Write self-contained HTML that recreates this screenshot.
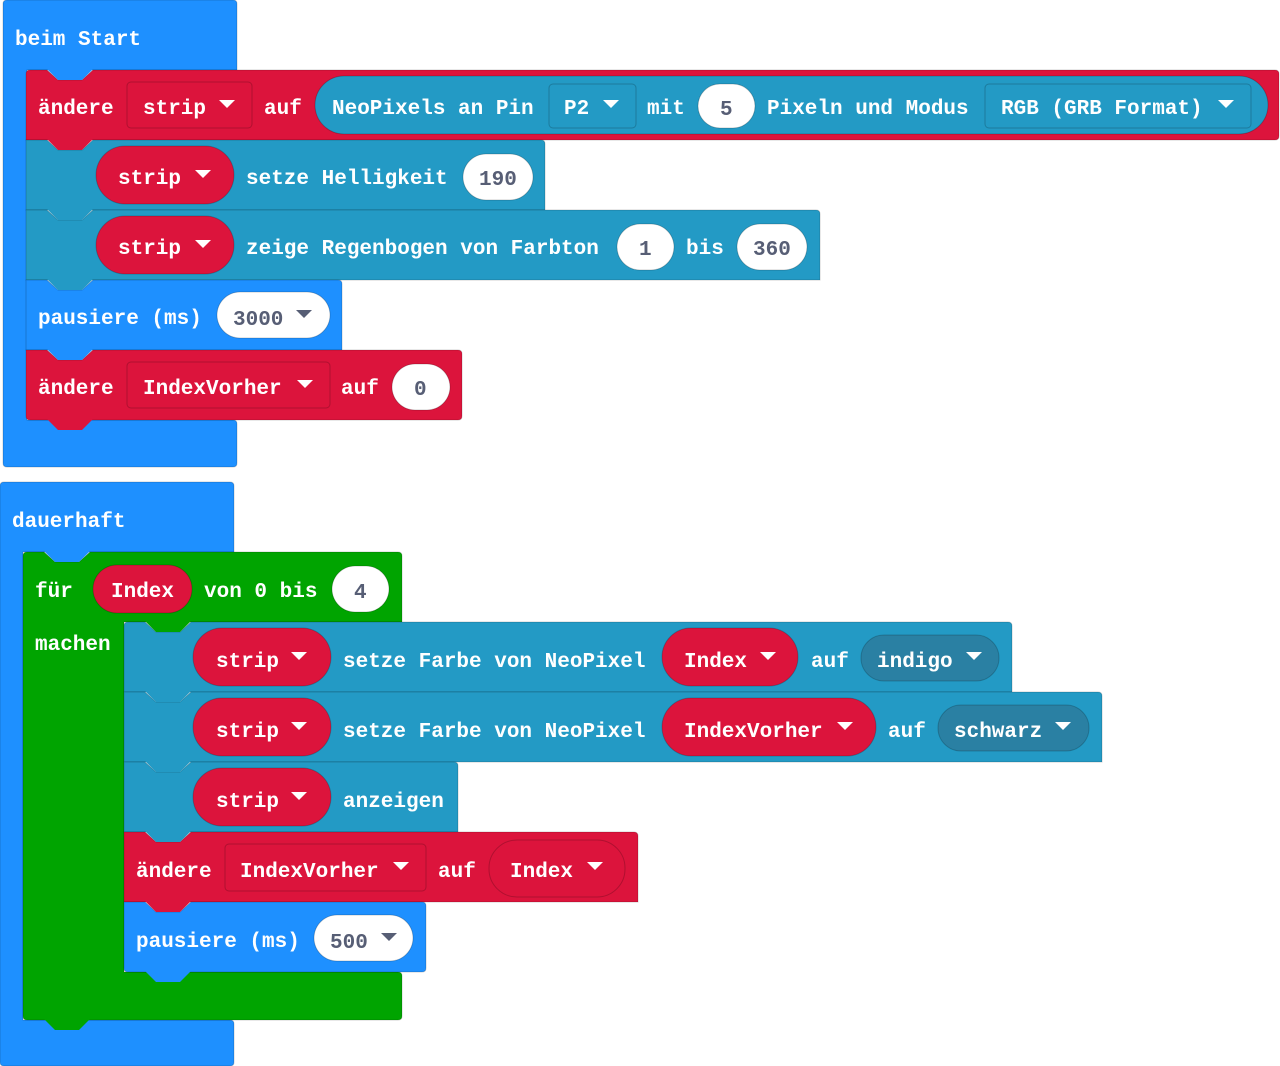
<!DOCTYPE html>
<html><head><meta charset="utf-8"><style>
html,body{margin:0;padding:0;background:#fff;width:1280px;height:1066px;overflow:hidden}
svg text{font-family:"Liberation Mono",monospace;font-weight:bold;font-size:21px;fill:#fff}
svg text.g{fill:#575E75}
</style></head><body>
<svg width="1280" height="1066" viewBox="0 0 1280 1066" xmlns="http://www.w3.org/2000/svg">
<defs></defs>
<g stroke="rgba(0,0,0,0.18)" stroke-width="1">
<!-- beim Start hat -->
<path d="M3,4 Q3,0 7,0 H233 Q237,0 237,4 V70 H27 V420 H233 Q237,420 237,424 V463 Q237,467 233,467 H7 Q3,467 3,463 Z" fill="#1E90FF"/>
<!-- block1 red -->
<path d="M26,74 Q26,70 30,70 H47 L58,80 H82 L93,70 H1275 Q1279,70 1279,74 V136 Q1279,140 1275,140 H26 Z" fill="#DC143C"/>
<!-- block2 teal -->
<path d="M26,140 H47 L58,150 H82 L93,140 H541 Q545,140 545,144 V210 H26 Z" fill="#239AC5"/>
<!-- block3 teal -->
<path d="M26,210 H47 L58,220 H82 L93,210 H816 Q820,210 820,214 V280 H26 Z" fill="#239AC5"/>
<!-- block4 blue -->
<path d="M26,280 H47 L58,290 H82 L93,280 H338 Q342,280 342,284 V350 H26 Z" fill="#1E90FF"/>
<!-- block5 red -->
<path d="M26,350 H47 L58,360 H82 L93,350 H458 Q462,350 462,354 V416 Q462,420 458,420 H30 Q26,420 26,416 Z" fill="#DC143C"/>

<!-- dauerhaft -->
<path d="M0,486 Q0,482 4,482 H230 Q234,482 234,486 V552 H23 V1020 H230 Q234,1020 234,1024 V1062 Q234,1066 230,1066 H4 Q0,1066 0,1062 Z" fill="#1E90FF"/>
<!-- for loop green -->
<path d="M23,556 Q23,552 27,552 H44 L55,562 H79 L90,552 H398 Q402,552 402,556 V622 H124 V972 H398 Q402,972 402,976 V1016 Q402,1020 398,1020 H27 Q23,1020 23,1016 Z" fill="#00A400"/>
<!-- inner blocks -->
<path d="M124,626 Q124,622 128,622 H145 L156,632 H180 L191,622 H1008 Q1012,622 1012,626 V692 H124 Z" fill="#239AC5"/>
<path d="M124,692 H145 L156,702 H180 L191,692 H1098 Q1102,692 1102,696 V762 H124 Z" fill="#239AC5"/>
<path d="M124,762 H145 L156,772 H180 L191,762 H454 Q458,762 458,766 V832 H124 Z" fill="#239AC5"/>
<path d="M124,832 H145 L156,842 H180 L191,832 H634 Q638,832 638,836 V902 H124 Z" fill="#DC143C"/>
<path d="M124,902 H145 L156,912 H180 L191,902 H422 Q426,902 426,906 V968 Q426,972 422,972 H128 Q124,972 124,968 Z" fill="#1E90FF"/>
</g>
<!-- tabs -->
<g>
<polygon points="47,69 58,80 82,80 93,69" fill="#1E90FF"/>
<polygon points="47,139 58,150 82,150 93,139" fill="#DC143C"/>
<polygon points="47,209 58,220 82,220 93,209" fill="#239AC5"/>
<polygon points="47,279 58,290 82,290 93,279" fill="#239AC5"/>
<polygon points="47,349 58,360 82,360 93,349" fill="#1E90FF"/>
<polygon points="47,419 58,430 82,430 93,419" fill="#DC143C"/>
<polygon points="44,551 55,562 79,562 90,551" fill="#1E90FF"/>
<polygon points="145,621 156,632 180,632 191,621" fill="#00A400"/>
<polygon points="145,691 156,702 180,702 191,691" fill="#239AC5"/>
<polygon points="145,761 156,772 180,772 191,761" fill="#239AC5"/>
<polygon points="145,831 156,842 180,842 191,831" fill="#239AC5"/>
<polygon points="145,901 156,912 180,912 191,901" fill="#DC143C"/>
<polygon points="145,971 156,982 180,982 191,971" fill="#1E90FF"/>
<polygon points="44,1019 55,1030 79,1030 90,1019" fill="#00A400"/>
</g>

<!-- inputs -->
<g stroke="rgba(0,0,0,0.2)" stroke-width="1">
<rect x="127" y="82" width="125" height="46" rx="4" fill="#DC143C"/>
<rect x="315" y="76" width="953" height="58" rx="29" fill="#239AC5"/>
<rect x="549" y="84" width="87" height="44" rx="4" fill="#239AC5"/>
<rect x="698" y="84" width="57" height="44" rx="22" fill="#fff"/>
<rect x="985" y="84" width="266" height="44" rx="4" fill="#239AC5"/>

<rect x="96" y="146" width="138" height="58" rx="29" fill="#DC143C"/>
<rect x="463" y="154" width="70" height="46" rx="23" fill="#fff"/>
<rect x="96" y="216" width="138" height="58" rx="29" fill="#DC143C"/>
<rect x="617" y="224" width="57" height="46" rx="23" fill="#fff"/>
<rect x="737" y="224" width="70" height="46" rx="23" fill="#fff"/>
<rect x="217" y="292" width="113" height="46" rx="23" fill="#fff"/>
<rect x="127" y="362" width="203" height="46" rx="4" fill="#DC143C"/>
<rect x="392" y="364" width="58" height="46" rx="23" fill="#fff"/>

<rect x="93" y="565" width="99" height="48" rx="24" fill="#DC143C"/>
<rect x="332" y="566" width="57" height="46" rx="23" fill="#fff"/>
<rect x="193" y="628" width="138" height="58" rx="29" fill="#DC143C"/>
<rect x="662" y="628" width="136" height="58" rx="29" fill="#DC143C"/>
<rect x="861" y="635" width="138" height="46" rx="23" fill="#2A80A3"/>
<rect x="193" y="698" width="138" height="58" rx="29" fill="#DC143C"/>
<rect x="662" y="698" width="214" height="58" rx="29" fill="#DC143C"/>
<rect x="938" y="705" width="151" height="46" rx="23" fill="#2A80A3"/>
<rect x="193" y="768" width="138" height="58" rx="29" fill="#DC143C"/>
<rect x="225" y="844" width="201" height="47" rx="4" fill="#DC143C"/>
<rect x="489" y="840" width="136" height="57" rx="28" fill="#DC143C"/>
<rect x="314" y="915" width="99" height="46" rx="23" fill="#fff"/>
</g>

<!-- arrows -->
<g fill="#fff">
<polygon points="219,100 235,100 227,108"/>
<polygon points="603,100 619,100 611,108"/>
<polygon points="1218,100 1234,100 1226,108"/>
<polygon points="195,170 211,170 203,178"/>
<polygon points="195,240 211,240 203,248"/>
<polygon points="297,380 313,380 305,388"/>
<polygon points="291,652 307,652 299,660"/>
<polygon points="760,652 776,652 768,660"/>
<polygon points="966,652 982,652 974,660"/>
<polygon points="291,722 307,722 299,730"/>
<polygon points="837,722 853,722 845,730"/>
<polygon points="1055,722 1071,722 1063,730"/>
<polygon points="291,792 307,792 299,800"/>
<polygon points="393,862 409,862 401,870"/>
<polygon points="587,862 603,862 595,870"/>
</g>
<g fill="#575E75">
<polygon points="296,310 312,310 304,318"/>
<polygon points="381,933 397,933 389,941"/>
</g>

<!-- text -->
<text x="15" y="45">beim Start</text>
<text x="38" y="114">ändere</text>
<text x="143" y="114">strip</text>
<text x="264" y="114">auf</text>
<text x="332" y="114">NeoPixels an Pin</text>
<text x="564" y="114">P2</text>
<text x="647" y="114">mit</text>
<text class="g" x="720" y="115">5</text>
<text x="767" y="114">Pixeln und Modus</text>
<text x="1001" y="114">RGB (GRB Format)</text>

<text x="118" y="184">strip</text>
<text x="246" y="184">setze Helligkeit</text>
<text class="g" x="479" y="185">190</text>
<text x="118" y="254">strip</text>
<text x="246" y="254">zeige Regenbogen von Farbton</text>
<text class="g" x="639" y="255">1</text>
<text x="686" y="254">bis</text>
<text class="g" x="753" y="255">360</text>
<text x="38" y="324">pausiere (ms)</text>
<text class="g" x="233" y="325">3000</text>
<text x="38" y="394">ändere</text>
<text x="143" y="394">IndexVorher</text>
<text x="341" y="394">auf</text>
<text class="g" x="414" y="395">0</text>

<text x="12" y="527">dauerhaft</text>
<text x="35" y="597">für</text>
<text x="111" y="597">Index</text>
<text x="204" y="597">von 0 bis</text>
<text class="g" x="354" y="598">4</text>
<text x="35" y="650">machen</text>

<text x="216" y="667">strip</text>
<text x="343" y="667">setze Farbe von NeoPixel</text>
<text x="684" y="667">Index</text>
<text x="811" y="667">auf</text>
<text x="877" y="667">indigo</text>
<text x="216" y="737">strip</text>
<text x="343" y="737">setze Farbe von NeoPixel</text>
<text x="684" y="737">IndexVorher</text>
<text x="888" y="737">auf</text>
<text x="954" y="737">schwarz</text>
<text x="216" y="807">strip</text>
<text x="343" y="807">anzeigen</text>
<text x="136" y="877">ändere</text>
<text x="240" y="877">IndexVorher</text>
<text x="438" y="877">auf</text>
<text x="510" y="877">Index</text>
<text x="136" y="947">pausiere (ms)</text>
<text class="g" x="330" y="948">500</text>
</svg>
</body></html>
